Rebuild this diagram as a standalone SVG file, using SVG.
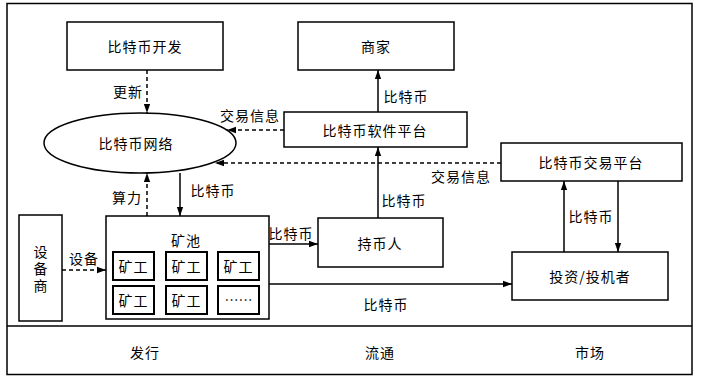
<svg xmlns="http://www.w3.org/2000/svg" width="701" height="380" viewBox="0 0 701 380">
<defs>
<marker id="ah" viewBox="0 0 10 10" refX="10" refY="5" markerWidth="9" markerHeight="9" markerUnits="userSpaceOnUse" orient="auto">
<path d="M0,1.5 L10,5 L0,8.5 Z" fill="#000"/>
</marker>
<style>
.b{fill:#fff;stroke:#000;stroke-width:1.5}
.m{fill:#fff;stroke:#000;stroke-width:2}
.t{font-family:"Noto Sans CJK SC","Noto Sans",sans-serif;font-size:14px;letter-spacing:1px;fill:#000;text-anchor:middle;dominant-baseline:central}
.v{font-family:"Noto Sans CJK SC","Noto Sans",sans-serif;font-size:14px;fill:#000;text-anchor:middle;dominant-baseline:central}
.s{fill:none;stroke:#000;stroke-width:1.5;marker-end:url(#ah)}
.d{fill:none;stroke:#000;stroke-width:1.5;stroke-dasharray:4,3;marker-end:url(#ah)}
</style>
</defs>
<rect x="0" y="0" width="701" height="380" fill="#fff"/>
<g id="frame">
<rect x="7" y="3.5" width="685" height="371" fill="none" stroke="#000" stroke-width="1.5"/>
<line x1="7" y1="326" x2="692" y2="326" stroke="#000" stroke-width="1.5"/>
<text class="t" x="145" y="352">发行</text>
<text class="t" x="380" y="352">流通</text>
<text class="t" x="590" y="352">市场</text>
</g>
<g id="dev"><rect class="b" x="67" y="22" width="156" height="48"/><text class="t" x="145" y="46">比特币开发</text></g>
<g id="merchant"><rect class="b" x="298" y="22" width="156" height="48"/><text class="t" x="376" y="46">商家</text></g>
<g id="network"><ellipse class="b" cx="140" cy="143" rx="96" ry="30"/><text class="t" x="136" y="143">比特币网络</text></g>
<g id="software"><rect class="b" x="284" y="112" width="183" height="35"/><text class="t" x="375" y="129.5">比特币软件平台</text></g>
<g id="exchange"><rect class="b" x="501" y="143" width="181" height="38"/><text class="t" x="591" y="162">比特币交易平台</text></g>
<g id="holder"><rect class="b" x="318" y="218" width="125" height="49"/><text class="t" x="380" y="242.5">持币人</text></g>
<g id="investor"><rect class="b" x="512" y="252" width="156" height="48"/><text class="t" x="590" y="276">投资/投机者</text></g>
<g id="vendor"><rect class="b" x="19" y="215" width="43" height="106"/><text class="v" x="40.5" y="270" writing-mode="vertical-rl" letter-spacing="3">设备商</text></g>
<g id="pool"><rect class="b" x="106" y="216" width="163" height="103"/><text class="t" x="186" y="240">矿池</text>
<g id="miner1"><rect class="m" x="113" y="252" width="41" height="28"/><text class="t" x="133.5" y="266">矿工</text></g>
<g id="miner2"><rect class="m" x="166" y="252" width="41" height="28"/><text class="t" x="186.5" y="266">矿工</text></g>
<g id="miner3"><rect class="m" x="218" y="252" width="41" height="28"/><text class="t" x="238.5" y="266">矿工</text></g>
<g id="miner4"><rect class="m" x="113" y="286" width="41" height="28"/><text class="t" x="133.5" y="300">矿工</text></g>
<g id="miner5"><rect class="m" x="166" y="286" width="41" height="28"/><text class="t" x="186.5" y="300">矿工</text></g>
<g id="miner6"><rect class="m" x="218" y="286" width="41" height="28"/><text class="v" x="238.5" y="299">……</text></g>
</g>
<g id="connectors">
<line class="d" x1="147" y1="70" x2="147" y2="113"/>
<text class="t" x="128" y="91">更新</text>
<line class="d" x1="284" y1="130" x2="227" y2="130"/>
<text class="t" x="250" y="115">交易信息</text>
<line class="d" x1="501" y1="163" x2="215" y2="163"/>
<text class="t" x="461" y="176">交易信息</text>
<line class="s" x1="378" y1="112" x2="378" y2="70"/>
<text class="t" x="406" y="96">比特币</text>
<line class="s" x1="378" y1="218" x2="378" y2="147"/>
<text class="t" x="404" y="200">比特币</text>
<line class="s" x1="180" y1="173" x2="180" y2="216"/>
<text class="t" x="213" y="190">比特币</text>
<line class="d" x1="147" y1="216" x2="147" y2="173"/>
<text class="t" x="127" y="197">算力</text>
<line class="d" x1="62" y1="270" x2="106" y2="270"/>
<text class="t" x="84" y="258">设备</text>
<line class="s" x1="269" y1="244" x2="318" y2="244"/>
<text class="t" x="291" y="233">比特币</text>
<line class="s" x1="269" y1="284" x2="512" y2="284"/>
<text class="t" x="386" y="304">比特币</text>
<line class="s" x1="564" y1="252" x2="564" y2="181"/>
<line class="s" x1="618" y1="181" x2="618" y2="252"/>
<text class="t" x="591" y="216">比特币</text>
</g>
</svg>
